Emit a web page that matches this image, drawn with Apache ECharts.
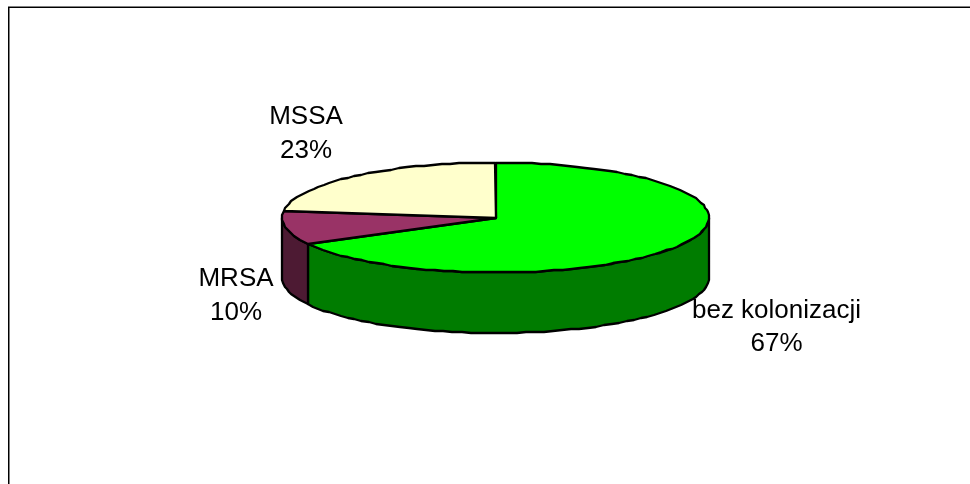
<!DOCTYPE html>
<html>
<head>
<meta charset="utf-8">
<style>html,body{margin:0;padding:0;background:#fff}#chart{width:970px;height:484px}</style>
<script src="https://cdn.jsdelivr.net/npm/echarts@6/dist/echarts.min.js"></script>
</head>
<body>
<div id="chart"></div>
<script>
// Colonisation shares, in drawing order clockwise from 12 o'clock
var categories = ['bez kolonizacji', 'MRSA', 'MSSA'];
var shares = [67, 10, 23];

// Slice colours
var topColors = ['#00ff00', '#993366', '#ffffcc'];
var wallColors = ['#007c00', '#4d1a33', '#808066'];

// Disc geometry and label anchors
var disc = { cx: 495.5, cy: 217.5, rx: 213.5, ry: 55, depth: 60.5, step: 2.5 };
var labelAnchors = [[776.5, 327.5], [236, 296], [306, 134]];

var total = shares.reduce(function (a, b) { return a + b; }, 0);

function rimPoint(deg, drop) {
  var a = deg * Math.PI / 180;
  return [
    Math.round(disc.cx + disc.rx * Math.sin(a)),
    Math.round(disc.cy - disc.ry * Math.cos(a) + drop)
  ];
}

function arcPoints(from, to, drop) {
  var pts = [];
  var n = Math.max(1, Math.ceil((to - from) / disc.step));
  for (var i = 0; i <= n; i++) {
    pts.push(rimPoint(from + (to - from) * i / n, drop));
  }
  return pts;
}

function renderSlice(params, api) {
  var i = params.dataIndex;
  var before = 0;
  for (var k = 0; k < i; k++) before += shares[k];
  var start = before / total * 360;
  var end = (before + api.value(0)) / total * 360;
  var outline = { stroke: '#000', lineWidth: 2.3, lineJoin: 'round' };
  var children = [];

  // Only the part of the rim facing the viewer gets a wall
  var wallFrom = Math.max(start, 90);
  var wallTo = Math.min(end, 270);
  if (wallTo > wallFrom) {
    var upper = arcPoints(wallFrom, wallTo, 0);
    var lower = arcPoints(wallFrom, wallTo, disc.depth).reverse();
    children.push({
      type: 'polygon',
      shape: { points: upper.concat(lower) },
      style: Object.assign({ fill: wallColors[i] }, outline)
    });
  }

  children.push({
    type: 'polygon',
    shape: { points: [[Math.round(disc.cx), Math.round(disc.cy)]].concat(arcPoints(start, end, 0)) },
    style: Object.assign({ fill: topColors[i] }, outline)
  });

  children.push({
    type: 'text',
    style: {
      x: labelAnchors[i][0],
      y: labelAnchors[i][1],
      text: categories[i] + '\n' + api.value(0) + '%',
      fill: '#000',
      font: '26px "Liberation Sans", Arial, sans-serif',
      lineHeight: 33.5,
      align: 'center',
      verticalAlign: 'middle'
    }
  });

  return { type: 'group', children: children };
}

var chart = echarts.init(document.getElementById('chart'), null, { renderer: 'canvas' });
chart.setOption({
  animation: false,
  backgroundColor: '#fff',
  graphic: [
    { type: 'rect', shape: { x: 8, y: 6, width: 962, height: 1 }, style: { fill: '#808080' } },
    { type: 'rect', shape: { x: 8, y: 7, width: 962, height: 1 }, style: { fill: '#000' } },
    { type: 'rect', shape: { x: 8, y: 7, width: 1, height: 477 }, style: { fill: '#000' } },
    { type: 'rect', shape: { x: 9, y: 8, width: 1, height: 476 }, style: { fill: '#808080' } }
  ],
  series: [{
    type: 'custom',
    coordinateSystem: 'none',
    renderItem: renderSlice,
    data: shares.map(function (v) { return [v]; })
  }]
});
</script>
</body>
</html>
